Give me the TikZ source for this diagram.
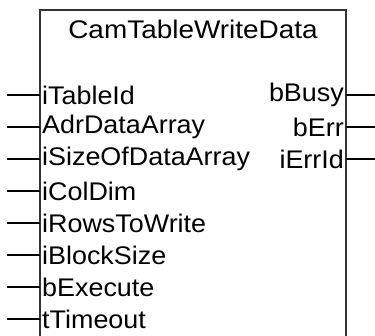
\documentclass[tikz,border=0pt]{standalone}
\usepackage{fontspec}
\setmainfont[FakeStretch=1.055]{Liberation Sans}
\newfontfamily\fbtitlefont[FakeStretch=1.095]{Liberation Sans}
\begin{document}
\begin{tikzpicture}[x=1pt,y=-1pt,
  pin/.style={line width=1.6pt,black},
  inlbl/.style={anchor=west,inner sep=0pt,font=\fontsize{25.5}{25.5}\selectfont},
  outlbl/.style={anchor=east,inner sep=0pt,font=\fontsize{25.5}{25.5}\selectfont},
  fb/.style={draw=black!80,line width=2pt,fill=white}]
\useasboundingbox (0,0) rectangle (375,335);
\clip (0,0) rectangle (375,335);
\fill[white] (0,0) rectangle (375,335);
\draw[fb] (40,10) rectangle (346,350);
\node[inner sep=0pt,font=\fbtitlefont\fontsize{25.5}{25.5}\selectfont] (title) at (193,29) {CamTableWriteData};
\foreach \name/\lbl [count=\i from 0] in {a/iTableId,b/AdrDataArray,c/iSizeOfDataArray,d/iColDim,e/iRowsToWrite,f/iBlockSize,g/bExecute,h/tTimeout}{
  \coordinate (in\name) at (7,{95+32*\i});
  \coordinate (pin\name) at (40,{95+32*\i});
  \node[inlbl] (l\name) at (42,{95+32*\i}) {\lbl};
  \draw[pin] (in\name) -- (pin\name);
}
\foreach \name/\lbl [count=\i from 0] in {a/bBusy,b/bErr,c/iErrId}{
  \coordinate (out\name) at (376,{95+32*\i});
  \coordinate (pout\name) at (346,{95+32*\i});
  \node[outlbl] (r\name) at (344,{95+32*\i}) {\lbl};
  \draw[pin] (pout\name) -- (out\name);
}
\end{tikzpicture}
\end{document}
